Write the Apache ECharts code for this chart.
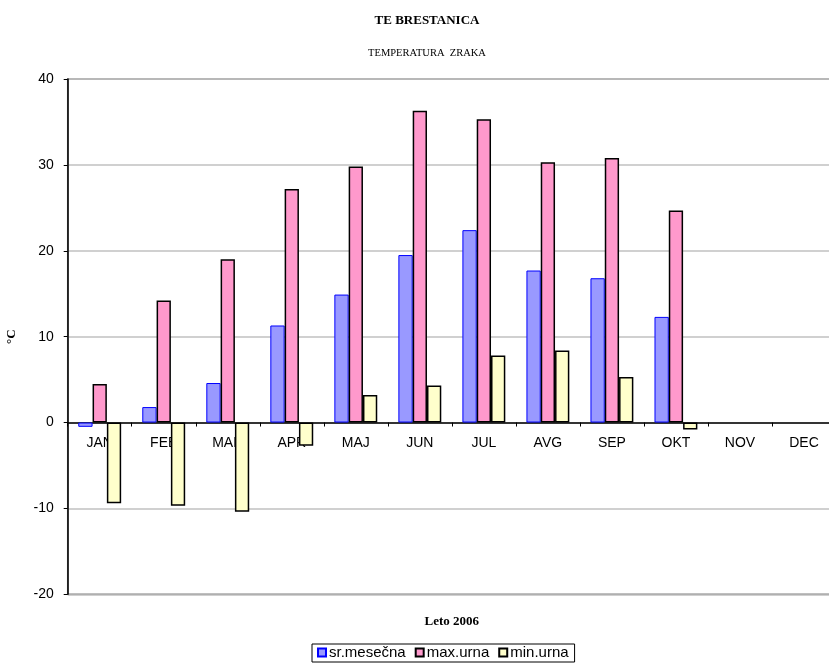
<!DOCTYPE html>
<html>
<head>
<meta charset="utf-8">
<script src="https://cdn.jsdelivr.net/npm/echarts@6/dist/echarts.min.js"></script>
<style>
html,body{margin:0;padding:0;background:#fff;}
#chart{width:829px;height:663px;}
</style>
</head>
<body>
<div id="chart"></div>
<script>
var months = ['JAN','FEB','MAR','APR','MAJ','JUN','JUL','AVG','SEP','OKT','NOV','DEC'];
var srMesecna = [-0.5, 1.8, 4.6, 11.3, 14.9, 19.5, 22.4, 17.7, 16.8, 12.3, null, null];
var maxUrna = [4.5, 14.2, 19.0, 27.2, 29.8, 36.3, 35.3, 30.3, 30.8, 24.7, null, null];
var minUrna = [-9.4, -9.7, -10.4, -2.7, 3.2, 4.3, 7.8, 8.4, 5.3, -0.8, null, null];

var chart = echarts.init(document.getElementById('chart'));
var serif = '"Liberation Serif", "Times New Roman", serif';
var sans = '"Liberation Sans", Arial, sans-serif';

// grid goes from y=79 (40) down to y=594.3 (-20); zero line sits 171.8px above the bottom
var gridTop = 79, gridBottom = 68.7;
var zeroShift = -(663 - gridBottom - (gridTop + (663 - gridBottom - gridTop) * 40 / 60));

var option = {
    animation: false,
    backgroundColor: '#fff',
    title: [
        {
            text: 'TE BRESTANICA',
            left: 422, top: 9, textAlign: 'center',
            textStyle: {fontFamily: serif, fontWeight: 'bold', fontSize: 13, color: '#000'}
        },
        {
            text: 'TEMPERATURA  ZRAKA',
            left: 422, top: 43, textAlign: 'center',
            textStyle: {fontFamily: serif, fontWeight: 'normal', fontSize: 10.5, color: '#000'}
        }
    ],
    grid: {
        left: 67.7, top: gridTop, right: -7, bottom: gridBottom,
        containLabel: false, outerBoundsMode: 'none',
        show: true, borderColor: '#808080', borderWidth: 1.5
    },
    legend: {
        top: 644, left: 312,
        data: ['sr.mesečna', 'max.urna', 'min.urna'],
        icon: 'rect', itemWidth: 8, itemHeight: 8, itemGap: 9,
        borderColor: '#000', borderWidth: 1, padding: [1, 6, 2, 5],
        textStyle: {fontFamily: sans, fontSize: 15, color: '#000', padding: [0, 0, 0, -2]}
    },
    xAxis: {
        type: 'category',
        data: months,
        offset: zeroShift,
        name: 'Leto 2006',
        nameLocation: 'middle',
        nameGap: 193,
        nameTextStyle: {fontFamily: serif, fontWeight: 'bold', fontSize: 13, color: '#000'},
        axisLine: {onZero: false, lineStyle: {color: '#000', width: 1.5}},
        axisTick: {show: true, length: 4, lineStyle: {color: '#000'}},
        axisLabel: {fontFamily: sans, fontSize: 14, color: '#000', margin: 14}
    },
    yAxis: {
        type: 'value',
        min: -20, max: 40, interval: 10,
        name: '°C',
        nameLocation: 'middle',
        nameGap: 50,
        nameRotate: 90,
        nameTextStyle: {fontFamily: serif, fontWeight: 'bold', fontSize: 13, color: '#000'},
        axisLine: {show: true, lineStyle: {color: '#000', width: 1.5}},
        axisTick: {show: true, length: 4, lineStyle: {color: '#000'}},
        axisLabel: {fontFamily: sans, fontSize: 14, color: '#000', margin: 14},
        splitLine: {lineStyle: {color: '#c0c0c0', width: 1.5}}
    },
    series: [
        {
            name: 'sr.mesečna', type: 'bar', data: srMesecna,
            barGap: 0, barCategoryGap: '33%',
            itemStyle: {color: '#9999ff', borderColor: '#0000ff', borderWidth: 1}
        },
        {
            name: 'max.urna', type: 'bar', data: maxUrna,
            itemStyle: {color: '#ff99cc', borderColor: '#000', borderWidth: 1.5}
        },
        {
            name: 'min.urna', type: 'bar', data: minUrna,
            itemStyle: {color: '#ffffcc', borderColor: '#000', borderWidth: 1.5}
        }
    ]
};
chart.setOption(option);
</script>
</body>
</html>
